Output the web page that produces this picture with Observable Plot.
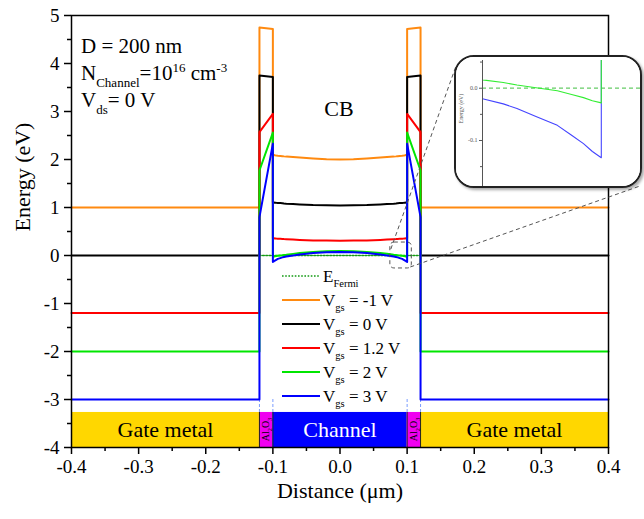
<!DOCTYPE html>
<html><head><meta charset="utf-8">
<script src="https://cdn.jsdelivr.net/npm/d3@7"></script>
<script src="https://cdn.jsdelivr.net/npm/@observablehq/plot@0.6"></script>
<style>
body{margin:0;background:#fff;}
#wrap{position:relative;width:644px;height:519px;}
#wrap svg text{font-family:"Liberation Serif",serif !important;}
#inset{position:absolute;left:454px;top:55px;width:188px;height:133px;box-sizing:border-box;border:2px solid #222;border-radius:20px;background:#fff;overflow:hidden;box-shadow:2px 2px 3px rgba(0,0,0,0.35);}
</style></head><body>
<div id="wrap"><div id="main"></div><div id="inset"></div></div>
<script>
const FONT = "'Liberation Serif', serif";

// ---- data ----
const xPts = [-0.4, -0.12, -0.12, -0.1, -0.1, -0.0985, -0.097, -0.095, -0.0926, -0.089, -0.0858, -0.0835, -0.08,
              -0.07, -0.06, -0.04, -0.02, 0,
              0.02, 0.04, 0.06, 0.07,
              0.08, 0.0835, 0.0858, 0.089, 0.0926, 0.095, 0.097, 0.0985, 0.1, 0.1, 0.12, 0.12, 0.4];
const vgsNeg1 = [1.0, 1.0, 4.75, 4.72, 2.10, 2.095, 2.09, 2.085, 2.08, 2.075, 2.07, 2.065, 2.06,
                 2.05, 2.04, 2.02, 2.005, 2.0,
                 2.005, 2.02, 2.04, 2.05,
                 2.06, 2.065, 2.07, 2.075, 2.08, 2.085, 2.09, 2.095, 2.10, 4.72, 4.75, 1.0, 1.0];
const vgs0 = [0, 0, 3.75, 3.72, 1.11, 1.105, 1.10, 1.097, 1.095, 1.092, 1.09, 1.085, 1.08,
              1.072, 1.065, 1.05, 1.045, 1.04,
              1.045, 1.05, 1.065, 1.072,
              1.08, 1.085, 1.09, 1.092, 1.095, 1.097, 1.10, 1.105, 1.11, 3.72, 3.75, 0, 0];
const vgs1p2 = [-1.2, -1.2, 2.57, 2.95, 0.36, 0.358, 0.355, 0.352, 0.35, 0.347, 0.345, 0.342, 0.34,
                0.332, 0.325, 0.315, 0.31, 0.305,
                0.31, 0.315, 0.325, 0.332,
                0.34, 0.342, 0.345, 0.347, 0.35, 0.352, 0.355, 0.358, 0.36, 2.95, 2.57, -1.2, -1.2];
const vgs2 = [-2, -2, 1.77, 2.56, -0.028, -0.024, -0.018, -0.012, -0.005, 0.001, 0.006, 0.011, 0.016,
              0.034, 0.05, 0.075, 0.09, 0.095,
              0.09, 0.075, 0.05, 0.034,
              0.016, 0.011, 0.006, 0.001, -0.005, -0.012, -0.018, -0.024, -0.028, 2.56, 1.77, -2, -2];
const vgs3 = [-3, -3, 0.80, 2.33, -0.133, -0.121, -0.106, -0.09, -0.071, -0.054, -0.039, -0.03, -0.02,
              0.002, 0.02, 0.05, 0.07, 0.075,
              0.07, 0.05, 0.02, 0.002,
              -0.02, -0.03, -0.039, -0.054, -0.071, -0.09, -0.106, -0.121, -0.133, 2.33, 0.80, -3, -3];
const seriesValues = [vgsNeg1, vgs0, vgs1p2, vgs2, vgs3];
const seriesVgs = ["-1", "0", "1.2", "2", "3"];
const seriesColors = ["#ff8a10", "#000000", "#ff0000", "#00e600", "#0000ff"];

const fermiLevel = [0];
const fermiX = [-0.12, 0.12];
const fermiColor = "#139a13";

const regionNames = ["Gate metal", "Al2O3", "Channel", "Al2O3", "Gate metal"];
const regionX1 = [-0.4, -0.12, -0.1, 0.1, 0.12];
const regionX2 = [-0.12, -0.1, 0.1, 0.12, 0.4];
const regionColors = ["#ffd700", "#f000f0", "#0000ff", "#f000f0", "#ffd700"];
const regionTextColors = ["#000", "#000", "#fff", "#000", "#000"];
const barTop = -3.27, barBottom = -4;
const boundaries = [-0.12, -0.1, 0.1, 0.12];
const bottomBand = -3;

const yMajor = [-4, -3, -2, -1, 0, 1, 2, 3, 4, 5];
const yMinor = [-3.5, -2.5, -1.5, -0.5, 0.5, 1.5, 2.5, 3.5, 4.5];
const xMajor = [-0.4, -0.3, -0.2, -0.1, 0, 0.1, 0.2, 0.3, 0.4];
const xMinor = [-0.35, -0.25, -0.15, -0.05, 0.05, 0.15, 0.25, 0.35];

const zoomBox = {x1: 0.075, x2: 0.107, y1: -0.27, y2: 0.27};
const insetX = [0.08, 0.1066];
const insetY = [-0.188, 0.053];
const insetMajor = [0, -0.1];
const insetMinor = [0.05, -0.05, -0.15];

// ---- build data tables ----
const lineData = [];
seriesValues.forEach((vals, s) => xPts.forEach((x, i) => lineData.push({x, y: vals[i], s})));
const regions = regionNames.map((n, i) => ({n, x1: regionX1[i], x2: regionX2[i], fill: regionColors[i], tc: regionTextColors[i]}));
const fermiData = fermiX.map(x => ({x, y: fermiLevel[0]}));

const chart = Plot.plot({
  width: 644, height: 519,
  marginLeft: 71, marginRight: 36, marginTop: 15, marginBottom: 72,
  x: {domain: [-0.4, 0.4]},
  y: {domain: [-4, 5]},
  style: {fontFamily: FONT, background: "white", overflow: "visible"},
  marks: [
    Plot.rect(regions, {x1: "x1", x2: "x2", y1: barTop, y2: barBottom, fill: "fill"}),
    Plot.ruleX(boundaries, {y1: barTop, y2: barBottom, stroke: "#222", strokeWidth: 1}),
    Plot.ruleX(boundaries, {y1: bottomBand, y2: barTop, stroke: "#7a9cff", strokeWidth: 1, strokeDasharray: "3,2"}),
    Plot.text(regions.filter(d => d.n !== "Al2O3"), {x: d => (d.x1 + d.x2) / 2, y: (barTop + barBottom) / 2, text: "n", fill: "tc", fontSize: 22, fontFamily: FONT}),
    Plot.line(fermiData, {x: "x", y: "y", stroke: fermiColor, strokeWidth: 1.6, strokeDasharray: "1.6,1.6"}),
    Plot.line(lineData, {x: "x", y: "y", z: "s", stroke: d => seriesColors[d.s], strokeWidth: 2}),
    Plot.rect([zoomBox], {x1: "x1", x2: "x2", y1: "y1", y2: "y2", fill: "none", stroke: "#555", strokeWidth: 1, strokeDasharray: "4,3", rx: 4}),
    Plot.frame({stroke: "#000", strokeWidth: 1.5}),
    Plot.axisY({ticks: yMajor, tickSize: 7, tickPadding: 5, tickFormat: d => String(d), fontSize: 19, label: null, strokeWidth: 1.5}),
    Plot.axisY({ticks: yMinor, tickSize: 4, tickFormat: () => "", label: null, strokeWidth: 1.5}),
    Plot.axisX({ticks: xMajor, tickSize: 7, tickPadding: 5, tickFormat: d => d.toFixed(1), fontSize: 19, label: null, strokeWidth: 1.5}),
    Plot.axisX({ticks: xMinor, tickSize: 4, tickFormat: () => "", label: null, strokeWidth: 1.5}),
    Plot.text(["Energy (eV)"], {frameAnchor: "left", dx: -49, rotate: -90, fontSize: 22, fontFamily: FONT}),
    Plot.text(["Distance (μm)"], {frameAnchor: "bottom", dy: 50, fontSize: 22, fontFamily: FONT})
  ]
});
document.getElementById("main").appendChild(chart);

const svg = d3.select(chart);
const sx = chart.scale("x"), sy = chart.scale("y");

function rich(parent, x, y, parts, size, opts = {}) {
  const t = parent.append("text").attr("x", x).attr("y", y)
    .attr("font-size", size).attr("font-family", FONT)
    .attr("fill", opts.fill || "#000").attr("text-anchor", opts.anchor || "start");
  let off = 0;
  for (const [s, k] of parts) {
    const target = k === "sub" ? size * 0.32 : k === "sup" ? -size * 0.4 : 0;
    const ts = t.append("tspan").attr("dy", target - off).text(s);
    if (k !== "n") ts.attr("font-size", size * 0.62);
    off = target;
  }
  if (opts.rotate) t.attr("transform", `rotate(${opts.rotate},${x},${y})`);
  return t;
}

const g = svg.append("g");
// Al2O3 labels
regions.filter(d => d.n === "Al2O3").forEach(d => {
  const cx = sx.apply((d.x1 + d.x2) / 2), cy = sy.apply((barTop + barBottom) / 2);
  rich(g, cx + 3.5, cy, [["Al", "n"], ["2", "sub"], ["O", "n"], ["3", "sub"]], 10, {anchor: "middle", rotate: -90});
});

// annotations
rich(g, 81, 53, [["D = 200 nm", "n"]], 21);
rich(g, 81, 80, [["N", "n"], ["Channel", "sub"], ["=10", "n"], ["16", "sup"], [" cm", "n"], ["-3", "sup"]], 21);
rich(g, 81, 107, [["V", "n"], ["ds", "sub"], ["= 0 V", "n"]], 21);
rich(g, 339, 116, [["CB", "n"]], 22, {anchor: "middle"});

// legend
const lx = 282, lw = 38, ly0 = 276, ldy = 24;
g.append("line").attr("x1", lx).attr("x2", lx + lw).attr("y1", ly0).attr("y2", ly0)
  .attr("stroke", fermiColor).attr("stroke-width", 1.6).attr("stroke-dasharray", "1.6,1.6");
rich(g, lx + lw + 3, ly0 + 6, [["E", "n"], ["Fermi", "sub"]], 17);
seriesVgs.forEach((v, i) => {
  const y = ly0 + ldy * (i + 1);
  g.append("line").attr("x1", lx).attr("x2", lx + lw).attr("y1", y).attr("y2", y)
    .attr("stroke", seriesColors[i]).attr("stroke-width", 2);
  rich(g, lx + lw + 3, y + 6, [["V", "n"], ["gs", "sub"], [` = ${v} V`, "n"]], 17);
});

// connectors from zoom box to inset
const bx1 = sx.apply(zoomBox.x1), bx2 = sx.apply(zoomBox.x2);
const by1 = sy.apply(zoomBox.y2), by2 = sy.apply(zoomBox.y1);
g.append("line").attr("x1", bx1 + 1).attr("y1", by1 + 7).attr("x2", 456).attr("y2", 66)
  .attr("stroke", "#555").attr("stroke-width", 1).attr("stroke-dasharray", "4,3");
g.append("line").attr("x1", bx2 - 1).attr("y1", by2 - 1).attr("x2", 640).attr("y2", 186)
  .attr("stroke", "#555").attr("stroke-width", 1).attr("stroke-dasharray", "4,3");

// ---- inset ----
const insetLines = lineData.filter(d => d.s >= 3);
const inset = Plot.plot({
  width: 184, height: 129, marginLeft: 26, marginTop: 3, marginBottom: 0, marginRight: 0,
  x: {domain: insetX, axis: null},
  y: {domain: insetY},
  style: {fontFamily: FONT, background: "white"},
  marks: [
    Plot.ruleY(fermiLevel, {stroke: "#66cc66", strokeWidth: 1.2, strokeDasharray: "4,3"}),
    Plot.line(insetLines.filter(d => d.s === 4), {x: "x", y: "y", stroke: "#4444ff", strokeWidth: 1.1, clip: true}),
    Plot.line(insetLines.filter(d => d.s === 3), {x: "x", y: "y", stroke: "#33ee33", strokeWidth: 1.1, clip: true}),
    Plot.ruleX([insetX[0]], {stroke: "#555", strokeWidth: 1}),
    Plot.axisY({ticks: insetMajor, tickSize: 3, tickPadding: 2, tickFormat: d => d.toFixed(1), fontSize: 6, fill: "#555", stroke: "#555", label: null}),
    Plot.axisY({ticks: insetMinor, tickSize: 2, tickFormat: () => "", stroke: "#555", label: null}),
    Plot.text(["Energy (eV)"], {frameAnchor: "left", dx: -21, rotate: -90, fontSize: 6, fill: "#555", fontFamily: FONT})
  ]
});
document.getElementById("inset").appendChild(inset);
</script>
</body></html>
